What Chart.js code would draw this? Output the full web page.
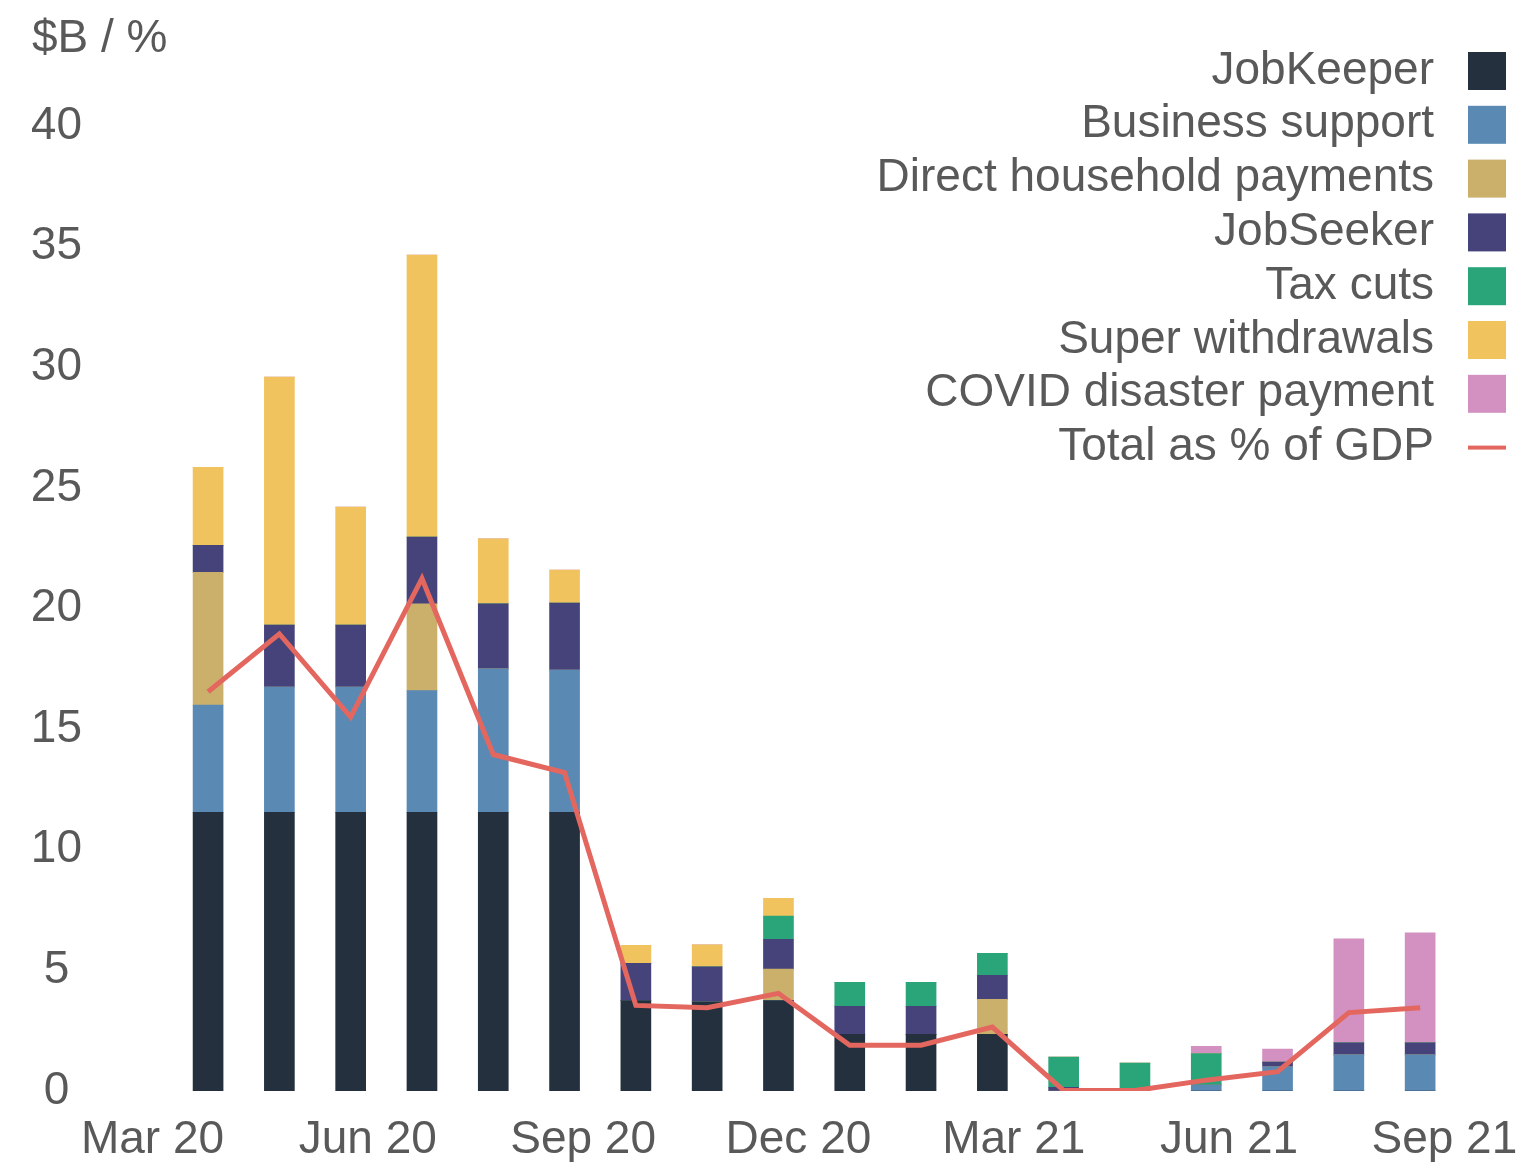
<!DOCTYPE html>
<html lang="en">
<head>
    <meta charset="UTF-8">
    <title>COVID support payments</title>
    <script src="https://cdn.jsdelivr.net/npm/chart.js"></script>
    <style>
        body { margin: 0; background: #ffffff; }
        #chartBox { width: 1526px; height: 1162px; }
    </style>
</head>
<body>

<div id="chartBox">
    <canvas id="supportChart" width="1526" height="1162"></canvas>
</div>

<script>

// Months shown as bars (Apr 20 .. Sep 21)
const months = ['Apr 20', 'May 20', 'Jun 20', 'Jul 20', 'Aug 20', 'Sep 20', 'Oct 20', 'Nov 20', 'Dec 20',
                'Jan 21', 'Feb 21', 'Mar 21', 'Apr 21', 'May 21', 'Jun 21', 'Jul 21', 'Aug 21', 'Sep 21'];

// Axis labels
const tickLabels = ['Mar 20', 'Jun 20', 'Sep 20', 'Dec 20', 'Mar 21', 'Jun 21', 'Sep 21'];
const yTicks = [0, 5, 10, 15, 20, 25, 30, 35, 40];

// $B per month
const jobKeeper       = [11.55, 11.55, 11.55, 11.55, 11.55, 11.55, 3.75, 3.7, 3.75, 2.35, 2.35, 2.35, 0, 0, 0, 0, 0, 0];
const businessSupport = [4.45, 5.2, 5.2, 5.05, 5.95, 5.9, 0, 0, 0, 0, 0, 0, 0, 0, 0.25, 1.0, 1.5, 1.5];
const directHousehold = [5.5, 0, 0, 3.6, 0, 0, 0, 0, 1.3, 0, 0, 1.45, 0, 0, 0, 0, 0, 0];
const jobSeeker       = [1.12, 2.57, 2.57, 2.77, 2.7, 2.78, 1.54, 1.45, 1.24, 1.16, 1.16, 1.0, 0.15, 0, 0, 0.2, 0.5, 0.5];
const taxCuts         = [0, 0, 0, 0, 0, 0, 0, 0, 0.96, 1.0, 1.0, 0.91, 1.26, 1.16, 1.3, 0, 0, 0];
const superWithdrawals = [3.24, 10.28, 4.89, 11.69, 2.69, 1.37, 0.75, 0.91, 0.74, 0, 0, 0, 0, 0, 0, 0, 0, 0];
const covidPayment    = [0, 0, 0, 0, 0, 0, 0, 0, 0, 0, 0, 0, 0, 0, 0.3, 0.54, 4.31, 4.56];

// Total as % of GDP
const gdpShare = [16.55, 18.95, 15.5, 21.25, 13.95, 13.2, 3.55, 3.45, 4.05, 1.9, 1.9, 2.65, 0.02, 0.02, 0.45, 0.8, 3.25, 3.45];

const FONT = '"Liberation Sans", Arial, sans-serif';
const TEXT = '#595959';

function points(values) {
    return values.map((v, i) => ({ x: i, y: v }));
}

function barSet(label, values, color) {
    return {
        type: 'bar',
        label: label,
        data: points(values),
        backgroundColor: color,
        borderWidth: 0,
        barThickness: 30,
        stack: 'payments'
    };
}

// Legend on the right: text right aligned, swatch after it
const sideLegend = {
    id: 'sideLegend',
    afterDraw(chart) {
        const ctx = chart.ctx;
        ctx.save();
        ctx.font = '46px ' + FONT;
        ctx.textAlign = 'right';
        ctx.textBaseline = 'middle';
        chart.data.datasets.forEach((ds, i) => {
            const y = 71 + i * 53.8;
            ctx.fillStyle = TEXT;
            ctx.fillText(ds.label, 1434, y);
            if (ds.type === 'line') {
                ctx.fillStyle = ds.borderColor;
                ctx.fillRect(1468, y - 2, 38, 4);
            } else {
                ctx.fillStyle = ds.backgroundColor;
                ctx.fillRect(1468, y - 19, 38, 38);
            }
        });
        ctx.restore();
    }
};

const ctx = document.getElementById('supportChart').getContext('2d');

new Chart(ctx, {
    data: {
        datasets: [
            barSet('JobKeeper', jobKeeper, '#24303d'),
            barSet('Business support', businessSupport, '#5a89b4'),
            barSet('Direct household payments', directHousehold, '#cbb06c'),
            barSet('JobSeeker', jobSeeker, '#46437b'),
            barSet('Tax cuts', taxCuts, '#2aa57a'),
            barSet('Super withdrawals', superWithdrawals, '#f0c35e'),
            barSet('COVID disaster payment', covidPayment, '#d291c0'),
            {
                type: 'line',
                label: 'Total as % of GDP',
                data: points(gdpShare),
                borderColor: '#e4675f',
                borderWidth: 5,
                pointRadius: 0,
                tension: 0,
                stack: 'gdp',
                order: -1
            }
        ]
    },
    options: {
        responsive: false,
        animation: false,
        layout: { padding: { left: 32, right: 26, top: 0, bottom: 0 } },
        scales: {
            x: {
                type: 'linear',
                stacked: true,
                offset: false,
                min: -1.6,
                max: 18.12,
                grid: { display: false, drawTicks: false, offset: false },
                border: { display: false },
                afterBuildTicks: scale => {
                    scale.ticks = tickLabels.map((t, k) => ({ value: -0.78 + 3.02 * k }));
                },
                afterFit: scale => {
                    scale.height = 71;
                    scale.paddingLeft = 0;
                    scale.paddingRight = 0;
                },
                ticks: {
                    autoSkip: false,
                    maxRotation: 0,
                    padding: 22,
                    color: TEXT,
                    font: { family: FONT, size: 46 },
                    callback: (value, index) => tickLabels[index]
                }
            },
            y: {
                stacked: true,
                min: 0,
                max: 40,
                grid: { display: false, drawTicks: false },
                border: { display: false },
                afterBuildTicks: scale => {
                    scale.ticks = yTicks.map(v => ({ value: v }));
                },
                afterFit: scale => { scale.width = 62; },
                ticks: {
                    padding: 12,
                    crossAlign: 'center',
                    color: TEXT,
                    font: { family: FONT, size: 46 }
                }
            }
        },
        plugins: {
            legend: { display: false },
            tooltip: { enabled: false },
            title: {
                display: true,
                text: '$B / %',
                align: 'start',
                color: TEXT,
                font: { family: FONT, size: 46, weight: 'normal' },
                padding: { top: 12, bottom: 59 }
            }
        }
    },
    plugins: [sideLegend]
});
</script>

</body>
</html>
